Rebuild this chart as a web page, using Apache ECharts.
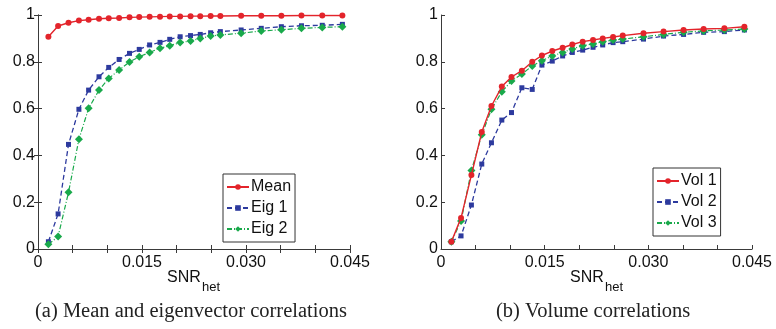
<!DOCTYPE html>
<html>
<head>
<meta charset="utf-8">
<script src="https://cdn.jsdelivr.net/npm/echarts@6/dist/echarts.min.js"></script>
<style>
html,body{margin:0;padding:0;background:#fff;}
#chart{width:776px;height:329px;}
</style>
</head>
<body>
<div id="chart"></div>
<script>
// SNR_het sample positions (shared by both panels)
const snr = [0.0015, 0.0029, 0.0044, 0.0059, 0.0073, 0.0088, 0.0102, 0.0117, 0.0132, 0.0146,
             0.0161, 0.0176, 0.0190, 0.0205, 0.0220, 0.0234, 0.0249, 0.0263, 0.0293, 0.0322,
             0.0351, 0.0380, 0.0410, 0.0439];
// Panel (a)
const meanCorr = [0.907, 0.953, 0.967, 0.976, 0.980, 0.984, 0.986, 0.987, 0.990, 0.991,
                  0.992, 0.993, 0.994, 0.994, 0.995, 0.995, 0.996, 0.996, 0.997, 0.997,
                  0.997, 0.998, 0.998, 0.998];
const eig1Corr = [0.031, 0.150, 0.447, 0.597, 0.679, 0.736, 0.776, 0.810, 0.836, 0.853,
                  0.872, 0.883, 0.896, 0.907, 0.912, 0.917, 0.924, 0.929, 0.936, 0.943,
                  0.950, 0.954, 0.956, 0.960];
const eig2Corr = [0.020, 0.053, 0.242, 0.469, 0.601, 0.679, 0.729, 0.765, 0.799, 0.822,
                  0.840, 0.858, 0.869, 0.882, 0.889, 0.900, 0.910, 0.915, 0.922, 0.932,
                  0.937, 0.943, 0.947, 0.950];
// Panel (b)
const vol1Corr = [0.031, 0.133, 0.316, 0.500, 0.611, 0.694, 0.735, 0.762, 0.800, 0.827,
                  0.846, 0.860, 0.874, 0.886, 0.893, 0.900, 0.906, 0.912, 0.922, 0.929,
                  0.936, 0.940, 0.943, 0.950];
const vol2Corr = [0.031, 0.056, 0.188, 0.363, 0.454, 0.551, 0.583, 0.689, 0.682, 0.786,
                  0.803, 0.825, 0.840, 0.850, 0.862, 0.872, 0.882, 0.886, 0.897, 0.910,
                  0.917, 0.926, 0.929, 0.936];
const vol3Corr = [0.031, 0.120, 0.335, 0.488, 0.597, 0.672, 0.718, 0.748, 0.782, 0.805,
                  0.825, 0.840, 0.855, 0.869, 0.876, 0.886, 0.893, 0.897, 0.907, 0.917,
                  0.926, 0.932, 0.936, 0.940];
const xTickLabels = ['0', '0.015', '0.030', '0.045'];
const legendA = ['Mean', 'Eig 1', 'Eig 2'];
const legendB = ['Vol 1', 'Vol 2', 'Vol 3'];
const captionA = '(a) Mean and eigenvector correlations';
const captionB = '(b) Volume correlations';

const RED = '#e3242b', BLUE = '#2d3a9e', GREEN = '#19a94b';
const AX = '#3a3a3a';
const SANS = 'Liberation Sans';

function pairs(ys) { return snr.map((x, i) => [x, ys[i]]); }

function xLabel(v) {
  const k = Math.round(v / 0.005);
  if (k % 3 !== 0) return '';
  return xTickLabels[k / 3] || '';
}

function xAx(grid, pos, showLabel) {
  return {
    type: 'value', gridIndex: grid, position: pos, min: 0, max: 0.045, interval: 0.005,
    axisLine: { show: true, lineStyle: { color: AX, width: 1 } },
    axisTick: { show: true, inside: true, length: 4, lineStyle: { color: AX } },
    axisLabel: { show: showLabel, formatter: xLabel, color: '#111', fontFamily: SANS, fontSize: 16, margin: 6 },
    splitLine: { show: false }
  };
}
function yAx(grid, pos, showLabel) {
  return {
    type: 'value', gridIndex: grid, position: pos, min: 0, max: 1, interval: 0.2,
    axisLine: { show: true, lineStyle: { color: AX, width: 1 } },
    axisTick: { show: true, inside: true, length: 4, lineStyle: { color: AX } },
    axisLabel: { show: showLabel, color: '#111', fontFamily: SANS, fontSize: 16, margin: 3 },
    splitLine: { show: false }
  };
}

function ser(name, ys, xi, yi, kind) {
  const st = {
    red: { color: RED, symbol: 'circle', size: 6, type: 'solid', w: 1.4 },
    blue: { color: BLUE, symbol: 'rect', size: 5, type: [5, 3], w: 1.3 },
    green: { color: GREEN, symbol: 'diamond', size: 8, type: [5, 2, 1, 2], w: 1.2 }
  }[kind];
  return {
    name: name, type: 'line', xAxisIndex: xi, yAxisIndex: yi, data: pairs(ys),
    symbol: st.symbol, symbolSize: st.size, showSymbol: true,
    lineStyle: { color: st.color, width: st.w, type: st.type },
    itemStyle: { color: st.color, borderWidth: 0 },
    animation: false, z: kind === 'red' ? 4 : 3
  };
}

const legendCommon = {
  orient: 'vertical', itemWidth: 22, itemHeight: 7, itemGap: 5,
  backgroundColor: '#fff', borderColor: '#333', borderWidth: 1, borderRadius: 0,
  padding: [5, 4, 5, 3],
  textStyle: { fontFamily: SANS, fontSize: 16, color: '#111', padding: [0, 0, 0, -3] },
  selectedMode: false
};

const chart = echarts.init(document.getElementById('chart'), null, { renderer: 'canvas' });
chart.setOption({
  animation: false,
  backgroundColor: '#fff',
  grid: [
    { left: 38, top: 15, width: 312, height: 234, show: false },
    { left: 441, top: 15, width: 311, height: 234, show: false }
  ],
  xAxis: [xAx(0, 'bottom', true), xAx(0, 'top', false), xAx(1, 'bottom', true)],
  yAxis: [yAx(0, 'left', true), yAx(0, 'right', false), yAx(1, 'left', true)],
  legend: [
    Object.assign({}, legendCommon, { data: legendA, left: 223, top: 174 }),
    Object.assign({}, legendCommon, { data: legendB, left: 653, top: 168 })
  ],
  series: [
    ser(legendA[0], meanCorr, 0, 0, 'red'),
    ser(legendA[1], eig1Corr, 0, 0, 'blue'),
    ser(legendA[2], eig2Corr, 0, 0, 'green'),
    ser(legendB[0], vol1Corr, 2, 2, 'red'),
    ser(legendB[1], vol2Corr, 2, 2, 'blue'),
    ser(legendB[2], vol3Corr, 2, 2, 'green')
  ],
  graphic: [
    { type: 'text', left: 167, top: 270, style: { text: 'SNR', font: '16px "Liberation Sans"', fill: '#111' } },
    { type: 'text', left: 202, top: 281, style: { text: 'het', font: '13px "Liberation Sans"', fill: '#111' } },
    { type: 'text', left: 570, top: 270, style: { text: 'SNR', font: '16px "Liberation Sans"', fill: '#111' } },
    { type: 'text', left: 605, top: 281, style: { text: 'het', font: '13px "Liberation Sans"', fill: '#111' } },
    { type: 'text', left: 35, top: 301, style: { text: captionA, font: '20.5px "Liberation Serif"', fill: '#222' } },
    { type: 'text', left: 496, top: 301, style: { text: captionB, font: '20.5px "Liberation Serif"', fill: '#222' } }
  ]
});
</script>
</body>
</html>
